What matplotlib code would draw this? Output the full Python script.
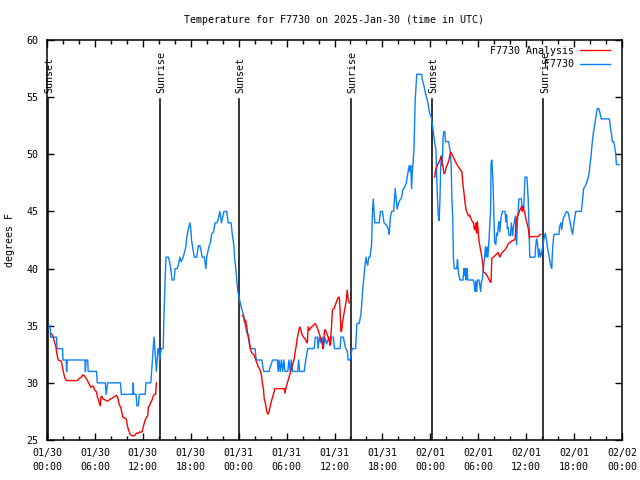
import matplotlib
matplotlib.use("Agg")
import matplotlib.pyplot as plt

# --- data (hours since 2025-01-30 00:00 UTC, degrees F) ---
obs_hours = [
    0.0, 0.4, 0.45, 1.2, 1.25, 1.95, 2.0, 2.4, 2.45, 2.55, 4.75, 4.8, 4.9, 5.1, 5.15, 6.2, 6.3, 7.3,
    7.4, 7.6, 9.2, 9.3, 10.75, 10.8, 10.85, 11.15, 11.25, 11.45, 11.55, 12.3, 12.4, 13.0, 13.1, 13.2,
    13.3, 13.4, 13.5, 13.6, 13.7, 13.8, 13.9, 14.0, 14.1, 14.3, 14.55, 14.65, 14.8, 14.9, 15.2, 15.35,
    15.5, 15.65, 15.9, 16.05, 16.3, 16.45, 16.65, 16.8, 17.05, 17.25, 17.4, 17.5, 17.7, 17.9, 18.0,
    18.1, 18.25, 18.45, 18.75, 18.95, 19.15, 19.3, 19.45, 19.7, 19.9, 20.0, 20.3, 20.45, 20.6, 20.85,
    21.05, 21.25, 21.4, 21.65, 21.85, 22.15, 22.5, 22.7, 23.05, 23.2, 23.4, 23.5, 23.65, 23.75, 23.9,
    24.1, 24.2, 24.4, 24.6, 24.8, 24.95, 25.2, 25.45, 26.05, 26.2, 26.9, 27.0, 27.15, 27.8, 28.0, 28.25,
    28.85, 28.95, 29.05, 29.2, 29.35, 29.5, 29.65, 29.8, 30.15, 30.3, 30.45, 30.6, 30.75, 31.4, 31.5,
    31.65, 32.2, 32.4, 32.65, 33.45, 33.6, 33.85, 33.95, 34.1, 34.3, 34.45, 34.6, 34.8, 35.0, 35.3,
    35.5, 35.6, 35.85, 36.0, 36.7, 36.8, 37.1, 37.25, 37.4, 37.6, 37.7, 37.95, 38.1, 38.2, 38.65, 38.8,
    39.1, 39.3, 39.4, 39.55, 39.7, 39.85, 39.95, 40.05, 40.15, 40.3, 40.45, 40.65, 40.75, 40.85, 40.95,
    41.05, 41.6, 41.75, 42.0, 42.2, 42.5, 42.75, 42.85, 43.0, 43.15, 43.4, 43.5, 43.6, 43.7, 43.85,
    44.0, 44.2, 44.4, 44.55, 44.7, 45.0, 45.1, 45.25, 45.35, 45.45, 45.55, 45.65, 45.75, 45.85, 45.95,
    46.1, 46.3, 46.9, 47.0, 47.2, 47.4, 47.7, 47.9, 48.1, 48.3, 48.5, 48.7, 48.8, 48.9, 49.0, 49.1,
    49.2, 49.3, 49.4, 49.5, 49.6, 49.7, 49.8, 49.9, 50.3, 50.5, 50.6, 50.7, 50.8, 50.9, 51.0, 51.3,
    51.4, 51.5, 51.7, 52.1, 52.2, 52.3, 52.35, 52.45, 52.55, 52.6, 52.7, 53.4, 53.5, 53.6, 53.7, 53.8,
    53.9, 54.1, 54.3, 54.4, 54.5, 54.6, 54.8, 54.9, 55.0, 55.1, 55.2, 55.3, 55.55, 55.6, 55.7, 55.75,
    55.85, 55.95, 56.05, 56.2, 56.3, 56.4, 56.5, 56.6, 56.7, 56.8, 56.9, 57.05, 57.35, 57.45, 57.55,
    57.65, 57.75, 57.85, 58.05, 58.15, 58.3, 58.4, 58.5, 58.65, 58.8, 58.9, 59.0, 59.1, 59.4, 59.5,
    59.6, 59.7, 59.85, 60.1, 60.25, 60.35, 60.45, 61.1, 61.2, 61.3, 61.4, 61.55, 61.65, 61.8, 62.05,
    62.2, 62.4, 62.55, 62.65, 62.8, 62.9, 63.05, 63.2, 63.3, 63.4, 63.5, 64.1, 64.2, 64.35, 64.45,
    64.55, 64.65, 64.85, 65.05, 65.25, 65.5, 65.65, 65.8, 65.9, 66.0, 66.1, 66.2, 66.9, 67.0, 67.2,
    67.45, 67.75, 67.9, 68.0, 68.1, 68.2, 68.3, 68.4, 68.6, 68.75, 68.9, 69.1, 69.25, 69.4, 70.4,
    70.5, 70.6, 70.7, 70.8, 70.95, 71.05, 71.2, 71.3, 71.65,
]
obs_temp = [
    35, 35, 34, 34, 33, 33, 32, 32, 31, 32, 32, 31, 32, 32, 31, 31, 30, 30,
    29, 30, 30, 29, 29, 30, 29, 29, 28, 28, 29, 29, 30, 30, 31, 32,
    33, 34, 33, 32, 31, 32, 33, 33, 32, 33, 33, 36, 39.3, 41, 41, 40.6,
    40, 39, 39, 40, 40, 40.3, 41, 40.6, 41, 41.5, 42, 42.7, 43.5, 44, 43.5,
    42.5, 41.8, 41, 41, 42, 42, 41.5, 41, 41, 40, 41, 42, 42.2, 43, 43.2,
    44, 44, 44.2, 45, 44, 45, 45, 44, 44, 43, 42, 40.8, 40, 39, 38,
    37.3, 37, 36.4, 36, 35.2, 34.6, 34, 33, 33, 32, 32, 31.5, 31, 31, 31.5, 32,
    32, 31, 32, 31, 32, 31, 32, 31, 31, 32, 31, 32, 31, 31, 32,
    31, 31, 32, 33, 33, 34, 34, 33, 34, 33.5, 34, 33, 34, 33.4, 34,
    33.3, 34, 34, 33, 33, 34, 34, 33.5, 33, 32.8, 32, 32, 32.5, 33, 33, 35.2,
    35.2, 36, 36.8, 38.3, 39.4, 40.5, 41, 40.5, 40.3, 41, 41, 42.2, 44.8, 46.1, 45,
    44, 44, 45, 45, 44, 43.8, 43.5, 43, 44.5, 45, 45, 46, 47, 46.2, 45.2,
    45.7, 46, 46.2, 46.9, 47, 47.5, 48, 48.6, 49, 48.5, 49, 47, 48.5, 49.5, 50.4,
    54.7, 57, 57, 56.5, 56, 55.3, 54.5, 53.6, 53.3, 52.4, 51.2, 50.4, 48, 46, 44.7, 44.2,
    46, 48.9, 49.9, 49, 51.5, 52, 52, 51.1, 51.1, 50.2, 49.2, 46.1, 44.5, 40.7, 40, 40,
    40.8, 39.7, 39, 39, 40, 39.4, 40, 39, 39.5, 40, 39, 39, 38.6, 38, 38.9, 38,
    39, 39, 38, 38.9, 39, 39.7, 41, 41.9, 41, 41.9, 41, 42, 45.1, 49.2, 49.5, 48.9,
    47.5, 44.8, 42.3, 42.1, 43.1, 42.9, 43.6, 44.1, 43.2, 44.1, 44.7, 45, 45, 44.1, 44.7,
    43.5, 43.6, 42.9, 42.9, 44, 42.9, 43.6, 44, 44.6, 42.1, 44, 45, 46.1, 46.1, 45.1,
    45.5, 45.3, 48, 48, 46.1, 43.8, 41, 41, 42, 42.6, 42.3, 41, 41.7, 41, 41.8,
    42.5, 43.1, 42.5, 41.9, 41.3, 41, 40.3, 40, 41.6, 42.5, 43, 43, 43.7, 44, 43.4,
    44, 44.4, 44.7, 45, 44.9, 44.1, 43.5, 43, 43.5, 44.1, 44.5, 45, 45, 45.6, 47,
    47.3, 47.9, 48.4, 49.2, 49.6, 50.5, 51.2, 51.8, 52.7, 53.4, 54, 54, 53.6, 53.1, 53.1,
    52.7, 52.1, 51.7, 51.1, 51.1, 50.8, 50.1, 49.1, 49.1,
]

# analysis series comes in three separate overnight pieces
ana_hours_1 = [
    0.55, 0.75, 0.85, 1.1, 1.25, 1.4, 1.8, 1.9, 2.0, 2.1, 2.25, 2.45, 3.8, 4.05, 4.3, 4.5, 4.7, 5.0,
    5.2, 5.35, 5.5, 5.6, 5.8, 5.95, 6.2, 6.3, 6.45, 6.6, 6.7, 6.76, 6.9, 7.0, 7.3, 7.5, 7.8, 8.0,
    8.35, 8.7, 8.8, 8.9, 9.05, 9.2, 9.35, 9.5, 9.8, 9.95, 10.05, 10.2, 10.4, 10.6, 10.8, 11.0, 11.2,
    11.45, 11.6, 11.9, 12.0, 12.15, 12.3, 12.45, 12.6, 12.7, 12.85, 13.0, 13.15, 13.35, 13.5, 13.6,
    13.7,
]
ana_temp_1 = [
    34.3, 34.1, 33.8, 33.2, 32.5, 32, 31.9, 31.5, 31.1, 30.8, 30.4, 30.2, 30.2, 30.4, 30.5, 30.7, 30.6, 30.3,
    30, 29.8, 29.6, 29.7, 29.7, 29.4, 29.2, 28.8, 28.5, 28.1, 28.0, 28.8, 28.8, 28.6, 28.5, 28.4, 28.5, 28.6,
    28.75, 28.9, 28.8, 28.6, 28.1, 27.9, 27.5, 27.0, 26.9, 26.8, 26.3, 25.9, 25.5, 25.4, 25.35, 25.4, 25.6,
    25.6, 25.7, 25.7, 26.0, 26.4, 26.75, 27.0, 27.1, 27.9, 28.0, 28.3, 28.5, 28.9, 29.0, 29.0,
    30.0,
]
ana_hours_2 = [
    24.45, 24.6, 24.75, 24.85, 25.0, 25.1, 25.2, 25.35, 25.5, 25.65, 25.85, 25.95, 26.15, 26.3, 26.45,
    26.65, 26.85, 27.0, 27.1, 27.2, 27.35, 27.5, 27.6, 27.75, 27.9, 28.1, 28.35, 28.55, 29.2, 29.7,
    29.8, 29.9, 30.1, 30.35, 30.55, 30.8, 30.95, 31.1, 31.2, 31.3, 31.5, 31.65, 31.8, 31.9, 32.1, 32.3,
    32.5, 32.6, 32.7, 32.85, 33.0, 33.3, 33.6, 33.8, 34.0, 34.15, 34.3, 34.45, 34.55, 34.65, 34.75,
    34.85, 35.05, 35.25, 35.35, 35.45, 35.6, 35.75, 35.95, 36.2, 36.35, 36.5, 36.6, 36.7, 36.8, 36.9,
    37.0, 37.2, 37.3, 37.45, 37.6, 37.7, 37.85,
]
ana_temp_2 = [
    35.9, 35.8, 35.3, 35.5, 35.0, 34.4, 34.2, 33.5, 32.9, 32.6, 32.5, 32.4, 32.0, 31.7, 31.4,
    31.2, 30.7, 29.8, 29.5, 28.6, 28.2, 27.6, 27.3, 27.3, 27.8, 28.4, 29.0, 29.5, 29.5, 29.5,
    29.1, 29.5, 30.0, 30.6, 31.1, 31.7, 32.1, 32.8, 33.2, 33.75, 34.5, 34.9, 34.6, 34.3, 34.0, 33.9,
    33.6, 33.5, 34.9, 34.6, 34.8, 35.0, 35.2, 34.9, 34.5, 34.2, 33.75, 33.5, 33.0, 33.7, 34.6,
    34.65, 34.3, 33.9, 33.6, 33.3, 34.6, 36.4, 36.5, 37.0, 37.3, 37.5, 37.5, 36.4, 34.5, 34.6,
    35.3, 36.1, 36.5, 37.1, 38.1, 37.4, 37.0,
]
ana_hours_3 = [
    48.55, 48.65, 48.8, 49.0, 49.25, 49.35, 49.45, 49.6, 49.7, 49.85, 50.0, 50.2, 50.35, 50.55, 50.7,
    50.85, 51.1, 51.35, 51.6, 51.8, 51.95, 52.05, 52.15, 52.25, 52.35, 52.5, 52.65, 52.8, 52.9, 53.0,
    53.2, 53.4, 53.5, 53.6, 53.7, 53.8, 53.9, 54.0, 54.1, 54.25, 54.4, 54.55, 54.65, 54.9, 55.1, 55.3,
    55.5, 55.6, 55.7, 55.9, 56.2, 56.5, 56.7, 56.9, 57.1, 57.3, 57.5, 57.8, 58.0, 58.2, 58.45, 58.6,
    58.7, 58.8, 59.0, 59.2, 59.4, 59.5, 59.6, 59.75, 59.85, 60.0, 60.3, 60.4, 60.5, 61.0, 61.5, 61.65,
    61.8,
]
ana_temp_3 = [
    48.0, 48.6, 48.9, 49.2, 49.6, 49.8, 49.3, 48.9, 48.3, 48.4, 48.9, 49.2, 49.6, 50.2, 50.0,
    49.8, 49.4, 49.1, 48.8, 48.6, 48.5, 47.6, 47.0, 46.4, 45.7, 45.1, 44.8, 44.6, 44.7, 44.5,
    44.2, 44.0, 43.5, 43.4, 44.0, 43.1, 44.1, 43.1, 42.4, 41.8, 41.2, 40.5, 39.7, 39.6, 39.4, 39.1,
    38.85, 38.8, 40.9, 41.0, 41.2, 41.4, 41.0, 41.3, 41.5, 41.6, 41.8, 42.2, 42.3, 42.4, 42.5, 42.5,
    43.5, 44.4, 44.7, 45.1, 45.4, 45.0, 45.4, 45.1, 44.8, 44.25, 43.4, 42.7, 42.8, 42.8, 42.8, 42.9,
    43.0,
]

sun_hours = [0.1, 14.15, 24.05, 38.1, 48.15, 62.15]
sun_labels = ["Sunset", "Sunrise", "Sunset", "Sunrise", "Sunset", "Sunrise"]

tick_hours = list(range(0, 73, 6))
tick_labels = [
    "01/30\n00:00", "01/30\n06:00", "01/30\n12:00", "01/30\n18:00",
    "01/31\n00:00", "01/31\n06:00", "01/31\n12:00", "01/31\n18:00",
    "02/01\n00:00", "02/01\n06:00", "02/01\n12:00", "02/01\n18:00",
    "02/02\n00:00",
]

RED = "#ff0000"
BLUE = "#0a80ff"
FS = 7.2

plt.rcParams["font.family"] = ["DejaVu Sans Mono"]
plt.rcParams["font.size"] = FS

fig = plt.figure(figsize=(6.4, 4.8), dpi=100)
ax = fig.add_axes([47 / 640, 40 / 480, 575 / 640, 400 / 480])

# sunrise / sunset markers
for h, lab in zip(sun_hours, sun_labels):
    ax.plot([h, h], [25, 54.8], color="black", lw=1.1, zorder=1)
    ax.text(h + 0.2, 55.4, lab, rotation=90, ha="center", va="bottom", fontsize=FS)

ax.plot(ana_hours_1, ana_temp_1, color=RED, lw=1.0, label="F7730 Analysis", zorder=3)
ax.plot(ana_hours_2, ana_temp_2, color=RED, lw=1.0, zorder=3)
ax.plot(ana_hours_3, ana_temp_3, color=RED, lw=1.0, zorder=3)
ax.plot(obs_hours, obs_temp, color=BLUE, lw=1.0, label="         F7730", zorder=2)

ax.set_xlim(0, 72)
ax.set_ylim(25, 60)
ax.set_xticks(tick_hours)
ax.set_xticklabels(tick_labels, linespacing=1.5)
ax.set_xticks(range(0, 73, 2), minor=True)
ax.set_yticks(range(25, 61, 5))
ax.tick_params(which="both", direction="in", top=True, right=True, width=1.0)
ax.tick_params(which="major", length=5)
ax.tick_params(which="minor", length=3)
ax.tick_params(axis="x", pad=6)
ax.tick_params(axis="y", pad=6)
for s in ax.spines.values():
    s.set_linewidth(1.1)

ax.set_title("Temperature for F7730 on 2025-Jan-30 (time in UTC)", fontsize=FS, pad=12)
ax.set_ylabel("degrees F", va="center")
ax.yaxis.set_label_coords(-37 / 575, 0.5)

ax.legend(loc="upper right", bbox_to_anchor=(1 - 12 / 575, 1 - 6 / 400),
          frameon=False, markerfirst=False, borderaxespad=0, borderpad=0,
          handlelength=3.0, handletextpad=0.6, labelspacing=0.35, fontsize=FS)

fig.savefig("out.png", dpi=100)
